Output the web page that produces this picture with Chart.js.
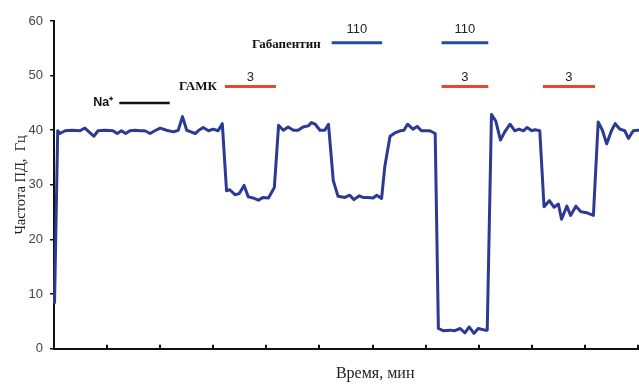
<!DOCTYPE html>
<html><head><meta charset="utf-8">
<script src="https://cdn.jsdelivr.net/npm/chart.js@4.4.1/dist/chart.umd.min.js"></script>
<style>html,body{margin:0;padding:0;background:#fff}#wrap{width:639px;height:384px;position:relative}</style>
</head><body><div id="wrap"><canvas id="c"></canvas></div>
<script>
// Time axis (minutes, tick every 1 unit, 0..11) and firing frequency (Hz)
const timeMin = [0.01,0.07,0.11,0.21,0.34,0.49,0.58,0.67,0.75,0.83,0.96,1.11,1.19,1.27,1.35,1.43,1.53,1.62,1.71,1.81,1.90,2.00,2.12,2.25,2.34,2.42,2.50,2.58,2.66,2.73,2.81,2.91,3.00,3.09,3.17,3.25,3.31,3.41,3.49,3.58,3.66,3.75,3.85,3.94,4.04,4.15,4.23,4.32,4.41,4.51,4.60,4.69,4.79,4.85,4.92,5.01,5.10,5.17,5.26,5.35,5.48,5.57,5.65,5.75,5.82,5.91,6.01,6.08,6.17,6.23,6.33,6.42,6.52,6.59,6.66,6.76,6.84,6.92,7.01,7.08,7.18,7.24,7.33,7.46,7.55,7.65,7.74,7.82,7.91,7.99,8.12,8.16,8.24,8.32,8.41,8.49,8.59,8.68,8.76,8.84,8.91,9.00,9.06,9.15,9.23,9.33,9.42,9.50,9.56,9.66,9.73,9.83,9.92,10.03,10.16,10.25,10.33,10.41,10.50,10.57,10.66,10.75,10.82,10.91,11.00];
const frequency = [8.4,39.9,39.4,39.9,40.0,39.9,40.4,39.6,38.9,39.9,40.0,39.9,39.4,39.9,39.4,39.9,40.0,39.9,39.9,39.4,39.9,40.4,40.0,39.7,40.0,42.5,40.0,39.7,39.4,40.0,40.5,39.9,40.2,39.9,41.2,28.9,29.1,28.2,28.4,29.9,27.8,27.6,27.2,27.7,27.6,29.5,40.9,40.0,40.6,40.0,40.0,40.6,40.8,41.4,41.1,40.0,40.0,41.1,30.8,27.9,27.7,28.1,27.3,28.0,27.7,27.7,27.6,28.1,27.5,33.3,38.9,39.5,39.9,40.0,41.1,40.2,40.7,39.9,39.9,39.9,39.4,3.7,3.3,3.4,3.3,3.7,2.9,4.0,2.8,3.7,3.4,3.4,42.9,41.7,38.2,39.7,41.1,39.9,40.2,39.9,40.5,39.9,40.1,39.9,26.0,27.1,25.9,26.5,23.7,26.1,24.4,26.1,25.1,24.9,24.4,41.5,40.0,37.5,39.9,41.2,40.2,39.9,38.5,39.9,40.0];
const yTicks = [0,10,20,30,40,50,60];
const xTitle = 'Время, мин';
const yTitle = 'Частота ПД,  Гц';

// Application bars (start, end in minutes) and their levels on the Hz scale
const sodiumBars = [[1.23, 2.18]];
const sodiumLevel = 45;
const gabaBars = [[3.22, 4.18], [7.30, 8.18], [9.21, 10.19]];
const gabaLevel = 48;
const gabaDoses = ['3', '3', '3'];
const gabapentinBars = [[5.23, 6.18], [7.30, 8.18]];
const gabapentinLevel = 56;
const gabapentinDoses = ['110', '110'];

const traceColor = '#2c3a94';
const gabaColor = '#e8472c';
const gabapentinColor = '#1f4ea3';

const datasets = [{
  data: timeMin.map((t, i) => ({x: t, y: frequency[i]})),
  borderColor: traceColor, borderWidth: 3, pointRadius: 0, tension: 0,
  borderJoinStyle: 'round', borderCapStyle: 'round', clip: false
}];
function addBars(bars, level, color, width) {
  bars.forEach(b => datasets.push({
    data: [{x: b[0], y: level}, {x: b[1], y: level}],
    borderColor: color, borderWidth: width, pointRadius: 0, clip: false
  }));
}
addBars(sodiumBars, sodiumLevel, '#111', 2.5);
addBars(gabaBars, gabaLevel, gabaColor, 3);
addBars(gabapentinBars, gabapentinLevel, gabapentinColor, 3);

const labelPlugin = {
  id: 'labels',
  afterDatasetsDraw(chart) {
    const {ctx, scales: {x, y}} = chart;
    ctx.save();
    ctx.textBaseline = 'middle';
    ctx.fillStyle = '#111';
    ctx.textAlign = 'right';
    ctx.font = 'bold 12.5px "Liberation Sans", Arial, sans-serif';
    ctx.fillText('Na⁺', x.getPixelForValue(sodiumBars[0][0]) - 6, y.getPixelForValue(sodiumLevel));
    ctx.font = 'bold 13px "Liberation Serif", "Times New Roman", serif';
    ctx.fillText('ГАМК', x.getPixelForValue(gabaBars[0][0]) - 8, y.getPixelForValue(gabaLevel));
    ctx.fillText('Габапентин', x.getPixelForValue(gabapentinBars[0][0]) - 11, y.getPixelForValue(gabapentinLevel) + 1.5);
    ctx.textAlign = 'center';
    ctx.fillStyle = '#222';
    ctx.font = '13px "Liberation Sans", Arial, sans-serif';
    gabaBars.forEach((b, i) => {
      ctx.fillText(gabaDoses[i], x.getPixelForValue((b[0] + b[1]) / 2), y.getPixelForValue(gabaLevel) - 9.5);
    });
    gabapentinBars.forEach((b, i) => {
      ctx.fillText(gabapentinDoses[i], x.getPixelForValue((b[0] + b[1]) / 2), y.getPixelForValue(gabapentinLevel) - 13);
    });
    // x-axis title (offset to the right as in the original)
    ctx.fillStyle = '#222';
    ctx.font = '16px "Liberation Serif", "Times New Roman", serif';
    ctx.fillText(xTitle, x.getPixelForValue(6.05), chart.height - 10);
    ctx.restore();
  }
};

new Chart(document.getElementById('c'), {
  type: 'line',
  data: {datasets},
  plugins: [labelPlugin],
  options: {
    responsive: true, maintainAspectRatio: false, animation: false,
    layout: {padding: {top: 21, right: 1, left: 0, bottom: 0}},
    plugins: {legend: {display: false}, tooltip: {enabled: false}},
    scales: {
      x: {
        type: 'linear', min: 0, max: 11,
        ticks: {stepSize: 1, display: false},
        grid: {display: true, drawOnChartArea: false, tickLength: -4, color: '#111', lineWidth: 2},
        border: {display: true, color: '#111', width: 2},
        title: {display: false},
        afterFit(s) { s.height = 35.3; }
      },
      y: {
        min: 0, max: 60,
        afterBuildTicks(s) { s.ticks = yTicks.map(v => ({value: v})); },
        ticks: {color: '#444', padding: 7, font: {family: '"Liberation Sans", Arial, sans-serif', size: 13}},
        grid: {display: true, drawOnChartArea: false, tickLength: 4, color: '#111', lineWidth: 1.5},
        border: {display: true, color: '#111', width: 2},
        title: {display: true, text: yTitle, color: '#222',
          font: {family: '"Liberation Serif", "Times New Roman", serif', size: 14.5}, padding: {top: 12, bottom: 0}},
        afterFit(s) { s.width = 54; }
      }
    }
  }
});
</script></body></html>
